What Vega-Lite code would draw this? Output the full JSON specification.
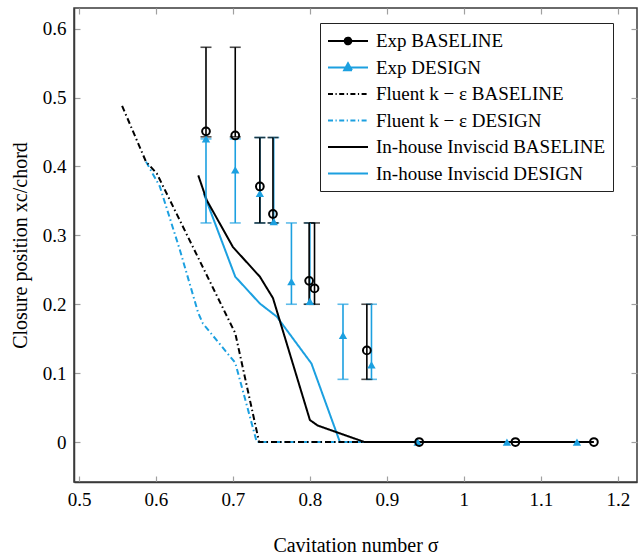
{
  "$schema": "https://vega.github.io/schema/vega-lite/v6.json",
  "width": 563,
  "height": 474,
  "autosize": {"type": "none"},
  "padding": {"left": 74, "top": 8, "right": 1, "bottom": 77},
  "background": "white",
  "datasets": {
    "models": [
      {"series": "Fluent k − ε DESIGN", "sigma": 0.587, "value": 0.407},
      {"series": "Fluent k − ε DESIGN", "sigma": 0.605, "value": 0.371},
      {"series": "Fluent k − ε DESIGN", "sigma": 0.631, "value": 0.279},
      {"series": "Fluent k − ε DESIGN", "sigma": 0.655, "value": 0.187},
      {"series": "Fluent k − ε DESIGN", "sigma": 0.661, "value": 0.172},
      {"series": "Fluent k − ε DESIGN", "sigma": 0.703, "value": 0.115},
      {"series": "Fluent k − ε DESIGN", "sigma": 0.731, "value": 0.0},
      {"series": "Fluent k − ε DESIGN", "sigma": 0.871, "value": 0.0},
      {"series": "In-house Inviscid DESIGN", "sigma": 0.662, "value": 0.361},
      {"series": "In-house Inviscid DESIGN", "sigma": 0.703, "value": 0.24},
      {"series": "In-house Inviscid DESIGN", "sigma": 0.735, "value": 0.201},
      {"series": "In-house Inviscid DESIGN", "sigma": 0.757, "value": 0.182},
      {"series": "In-house Inviscid DESIGN", "sigma": 0.802, "value": 0.114},
      {"series": "In-house Inviscid DESIGN", "sigma": 0.839, "value": 0.0},
      {"series": "In-house Inviscid DESIGN", "sigma": 1.147, "value": 0.0},
      {"series": "Fluent k − ε BASELINE", "sigma": 0.556, "value": 0.488},
      {"series": "Fluent k − ε BASELINE", "sigma": 0.587, "value": 0.407},
      {"series": "Fluent k − ε BASELINE", "sigma": 0.601, "value": 0.39},
      {"series": "Fluent k − ε BASELINE", "sigma": 0.703, "value": 0.158},
      {"series": "Fluent k − ε BASELINE", "sigma": 0.734, "value": 0.0},
      {"series": "Fluent k − ε BASELINE", "sigma": 0.871, "value": 0.0},
      {"series": "In-house Inviscid BASELINE", "sigma": 0.655, "value": 0.387},
      {"series": "In-house Inviscid BASELINE", "sigma": 0.666, "value": 0.351},
      {"series": "In-house Inviscid BASELINE", "sigma": 0.7, "value": 0.283},
      {"series": "In-house Inviscid BASELINE", "sigma": 0.735, "value": 0.24},
      {"series": "In-house Inviscid BASELINE", "sigma": 0.752, "value": 0.209},
      {"series": "In-house Inviscid BASELINE", "sigma": 0.8, "value": 0.032},
      {"series": "In-house Inviscid BASELINE", "sigma": 0.81, "value": 0.024},
      {"series": "In-house Inviscid BASELINE", "sigma": 0.871, "value": 0.0},
      {"series": "In-house Inviscid BASELINE", "sigma": 1.169, "value": 0.0}
    ],
    "bars": [
      {"series": "Exp DESIGN", "sigma": 0.665, "lo": 0.318, "hi": 0.44},
      {"series": "Exp DESIGN", "sigma": 0.703, "lo": 0.318, "hi": 0.44},
      {"series": "Exp DESIGN", "sigma": 0.735, "lo": 0.318, "hi": 0.442},
      {"series": "Exp DESIGN", "sigma": 0.753, "lo": 0.318, "hi": 0.442},
      {"series": "Exp DESIGN", "sigma": 0.776, "lo": 0.2, "hi": 0.318},
      {"series": "Exp DESIGN", "sigma": 0.8, "lo": 0.2, "hi": 0.318},
      {"series": "Exp DESIGN", "sigma": 0.843, "lo": 0.091, "hi": 0.2},
      {"series": "Exp DESIGN", "sigma": 0.88, "lo": 0.091, "hi": 0.2},
      {"series": "Exp BASELINE", "sigma": 0.665, "lo": 0.443, "hi": 0.573},
      {"series": "Exp BASELINE", "sigma": 0.703, "lo": 0.443, "hi": 0.573},
      {"series": "Exp BASELINE", "sigma": 0.735, "lo": 0.318, "hi": 0.442},
      {"series": "Exp BASELINE", "sigma": 0.752, "lo": 0.318, "hi": 0.442},
      {"series": "Exp BASELINE", "sigma": 0.799, "lo": 0.2, "hi": 0.318},
      {"series": "Exp BASELINE", "sigma": 0.806, "lo": 0.2, "hi": 0.318},
      {"series": "Exp BASELINE", "sigma": 0.874, "lo": 0.091, "hi": 0.2}
    ],
    "exp": [
      {"series": "Exp DESIGN", "sigma": 0.665, "value": 0.44},
      {"series": "Exp DESIGN", "sigma": 0.703, "value": 0.395},
      {"series": "Exp DESIGN", "sigma": 0.735, "value": 0.361},
      {"series": "Exp DESIGN", "sigma": 0.753, "value": 0.32},
      {"series": "Exp DESIGN", "sigma": 0.776, "value": 0.233},
      {"series": "Exp DESIGN", "sigma": 0.8, "value": 0.204},
      {"series": "Exp DESIGN", "sigma": 0.843, "value": 0.155},
      {"series": "Exp DESIGN", "sigma": 0.88, "value": 0.112},
      {"series": "Exp DESIGN", "sigma": 0.94, "value": 0.0},
      {"series": "Exp DESIGN", "sigma": 1.056, "value": 0.0},
      {"series": "Exp DESIGN", "sigma": 1.147, "value": 0.0},
      {"series": "Exp BASELINE", "sigma": 0.665, "value": 0.451},
      {"series": "Exp BASELINE", "sigma": 0.703, "value": 0.445},
      {"series": "Exp BASELINE", "sigma": 0.735, "value": 0.371},
      {"series": "Exp BASELINE", "sigma": 0.752, "value": 0.331},
      {"series": "Exp BASELINE", "sigma": 0.799, "value": 0.234},
      {"series": "Exp BASELINE", "sigma": 0.806, "value": 0.223},
      {"series": "Exp BASELINE", "sigma": 0.874, "value": 0.133},
      {"series": "Exp BASELINE", "sigma": 0.942, "value": 0.0},
      {"series": "Exp BASELINE", "sigma": 1.067, "value": 0.0},
      {"series": "Exp BASELINE", "sigma": 1.169, "value": 0.0}
    ]
  },
  "resolve": {"axis": {"x": "independent", "y": "independent"}},
  "layer": [
    {
      "data": {"name": "models"},
      "transform": [{"filter": {"field": "series", "oneOf": ["Fluent k − ε DESIGN", "In-house Inviscid DESIGN"]}}],
      "mark": {"type": "line", "strokeWidth": 2},
      "encoding": {
        "x": {"field": "sigma", "type": "quantitative", "scale": {"domain": [0.4935, 1.225], "nice": false, "zero": false},
          "axis": {"orient": "bottom", "title": "Cavitation number σ", "values": [0.5, 0.6, 0.7, 0.8, 0.9, 1.0, 1.1, 1.2], "format": "~g", "labelPadding": 14, "titlePadding": 26}},
        "y": {"field": "value", "type": "quantitative", "scale": {"domain": [-0.058, 0.63], "nice": false, "zero": false},
          "axis": {"orient": "left", "title": "Closure position xc/chord", "values": [0, 0.1, 0.2, 0.3, 0.4, 0.5, 0.6], "format": "~g", "labelPadding": 14, "titlePadding": 12}},
        "color": {"field": "series", "type": "nominal",
          "scale": {"domain": ["Exp BASELINE", "Exp DESIGN", "Fluent k − ε BASELINE", "Fluent k − ε DESIGN", "In-house Inviscid BASELINE", "In-house Inviscid DESIGN"],
            "range": ["#000000", "#1ca0e0", "#000000", "#1ca0e0", "#000000", "#1ca0e0"]},
          "legend": {
            "orient": "none", "legendX": 246, "legendY": 15, "title": null,
            "strokeColor": "#222222", "fillColor": "white", "padding": 7,
            "symbolSize": 400, "symbolStrokeWidth": 1.8, "labelOffset": 27, "rowPadding": 5.5,
            "labelFont": "Liberation Serif", "labelFontSize": 19, "labelColor": "black", "labelLimit": 400,
            "encode": {
              "symbols": {
                "update": {
                  "shape": {"signal": "datum.value === 'Exp BASELINE' ? 'M-1,0H3M0.66,0A0.34,0.34,0,1,1,1.34,0A0.34,0.34,0,1,1,0.66,0' : datum.value === 'Exp DESIGN' ? 'M-1,0H3M0.6,0.28L1.4,0.28L1,-0.44Z' : 'M-1,0H3'"},
                  "fill": {"signal": "datum.value === 'Exp DESIGN' ? '#1ca0e0' : datum.value === 'Exp BASELINE' ? 'white' : 'transparent'"},
                  "stroke": {"signal": "(datum.value === 'Exp DESIGN' || datum.value === 'Fluent k − ε DESIGN' || datum.value === 'In-house Inviscid DESIGN') ? '#1ca0e0' : '#000000'"},
                  "strokeDash": {"signal": "(datum.value === 'Fluent k − ε DESIGN' || datum.value === 'Fluent k − ε BASELINE') ? [5, 2.5, 1.2, 2.5] : [1, 0]"},
                  "strokeWidth": {"value": 1.8},
                  "size": {"value": 400},
                  "opacity": {"value": 1}
                }
              }
            }
          }
        },
        "strokeDash": {"field": "series", "type": "nominal", "legend": null,
          "scale": {"domain": ["Fluent k − ε BASELINE", "Fluent k − ε DESIGN", "In-house Inviscid BASELINE", "In-house Inviscid DESIGN"],
            "range": [[6, 3, 1.5, 3], [6, 3, 1.5, 3], [1, 0], [1, 0]]}}
      }
    },
    {
      "data": {"name": "models"},
      "transform": [{"filter": {"field": "series", "oneOf": ["Fluent k − ε BASELINE", "In-house Inviscid BASELINE"]}}],
      "mark": {"type": "line", "strokeWidth": 2},
      "encoding": {
        "x": {"field": "sigma", "type": "quantitative", "axis": null},
        "y": {"field": "value", "type": "quantitative", "axis": null},
        "color": {"field": "series", "type": "nominal", "legend": null},
        "strokeDash": {"field": "series", "type": "nominal", "legend": null}
      }
    },
    {
      "data": {"name": "bars"},
      "mark": {"type": "errorbar", "ticks": true, "size": 11, "thickness": 1.6},
      "encoding": {
        "x": {"field": "sigma", "type": "quantitative", "axis": null},
        "y": {"field": "lo", "type": "quantitative", "axis": null},
        "y2": {"field": "hi"},
        "color": {"field": "series", "type": "nominal", "legend": null}
      }
    },
    {
      "data": {"name": "exp"},
      "transform": [{"filter": {"field": "series", "equal": "Exp DESIGN"}}],
      "mark": {"type": "point", "shape": "triangle-up", "filled": true, "size": 70, "opacity": 1},
      "encoding": {
        "x": {"field": "sigma", "type": "quantitative", "axis": null},
        "y": {"field": "value", "type": "quantitative", "axis": null},
        "color": {"field": "series", "type": "nominal", "legend": null}
      }
    },
    {
      "data": {"name": "exp"},
      "transform": [{"filter": {"field": "series", "equal": "Exp BASELINE"}}],
      "mark": {"type": "point", "shape": "circle", "filled": false, "size": 60, "strokeWidth": 2, "opacity": 1},
      "encoding": {
        "x": {"field": "sigma", "type": "quantitative", "axis": null},
        "y": {"field": "value", "type": "quantitative", "axis": null},
        "color": {"field": "series", "type": "nominal", "legend": null}
      }
    },
    {
      "data": {"name": "exp"},
      "mark": {"type": "point", "opacity": 0},
      "encoding": {
        "x": {"field": "sigma", "type": "quantitative",
          "axis": {"orient": "top", "labels": false, "domain": false, "title": null, "values": [0.5, 0.6, 0.7, 0.8, 0.9, 1.0, 1.1, 1.2]}},
        "y": {"field": "value", "type": "quantitative",
          "axis": {"orient": "right", "labels": false, "domain": false, "title": null, "values": [0, 0.1, 0.2, 0.3, 0.4, 0.5, 0.6]}}
      }
    }
  ],
  "config": {
    "font": "Liberation Serif",
    "view": {"stroke": "#3a3a3a", "strokeWidth": 1.5},
    "axis": {
      "grid": false,
      "labelFont": "Liberation Serif", "labelFontSize": 19, "labelColor": "#000000",
      "tickColor": "#a0a0a0", "tickWidth": 1.2, "tickSize": -6,
      "domainColor": "#3a3a3a", "domainWidth": 1.5,
      "titleFont": "Liberation Serif", "titleFontSize": 20, "titleFontWeight": "normal", "titleColor": "#000000"
    }
  }
}
